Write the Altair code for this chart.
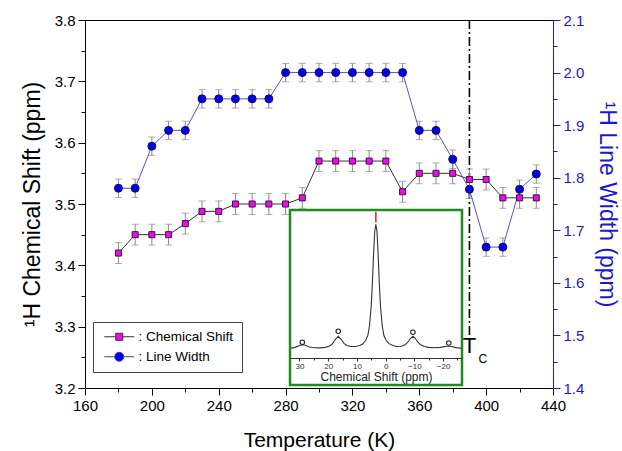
import altair as alt
import pandas as pd

# ---------------- data ----------------
temperature = [180, 190, 200, 210, 220, 230, 240, 250, 260, 270, 280, 290, 300,
               310, 320, 330, 340, 350, 360, 370, 380, 390, 400, 410, 420, 430]
chem_shift = [3.42, 3.45, 3.45, 3.45, 3.468, 3.488, 3.488, 3.50, 3.50, 3.50, 3.50, 3.51, 3.57,
              3.57, 3.57, 3.57, 3.57, 3.52, 3.55, 3.55, 3.55, 3.54, 3.54, 3.51, 3.51, 3.51]
line_width = [1.78, 1.78, 1.86, 1.89, 1.89, 1.95, 1.95, 1.95, 1.95, 1.95, 2.00, 2.00, 2.00,
              2.00, 2.00, 2.00, 2.00, 2.00, 1.89, 1.89, 1.835, 1.778, 1.668, 1.668, 1.778, 1.807]
cs_error = 0.017
lw_error = 0.0175

series_names = ["Chemical Shift", "Line Width"]

# inset spectrum
spec_ppm = [33.0, 31.5, 30.0, 29.0, 28.0, 26.5, 25.0, 23.0, 21.0, 19.5, 18.5, 17.5, 16.5, 15.5,
            14.5, 13.5, 12.0, 10.5, 9.0, 8.0, 7.0, 6.2, 5.6, 5.0, 4.6, 4.2, 3.8, 3.4, 3.0, 2.6,
            2.2, 1.8, 1.2, 0.6, -0.2, -1.2, -2.5, -4.0, -5.5, -6.8, -7.8, -8.7, -9.5, -10.3,
            -11.2, -12.2, -13.5, -15.0, -17.0, -19.0, -20.5, -21.5, -22.3, -23.2, -24.5, -26.5]
spec_int = [0.008, 0.015, 0.03, 0.037, 0.032, 0.018, 0.012, 0.011, 0.015, 0.026, 0.045, 0.08,
            0.104, 0.08, 0.047, 0.03, 0.022, 0.022, 0.03, 0.042, 0.07, 0.11, 0.19, 0.35, 0.53,
            0.76, 0.94, 1.0, 0.94, 0.76, 0.53, 0.35, 0.19, 0.11, 0.07, 0.045, 0.03, 0.022, 0.024,
            0.035, 0.058, 0.088, 0.104, 0.088, 0.058, 0.035, 0.022, 0.015, 0.012, 0.015, 0.021,
            0.024, 0.024, 0.02, 0.013, 0.008]
sideband_ppm = [29.0, 16.5, -9.5, -22.0]
sideband_int = [0.056, 0.144, 0.136, 0.05]
peak_ppm = 3.4
peak_mark = [1.015, 1.1]

inset_ticks = [30, 20, 10, 0, -10, -20]
inset_minor = [25, 15, 5, -5, -15, -25]
x_ticks = [160, 200, 240, 280, 320, 360, 400, 440]
x_minor = [180, 220, 260, 300, 340, 380, 420]
cs_ticks = [3.2, 3.3, 3.4, 3.5, 3.6, 3.7, 3.8]
cs_minor = [3.25, 3.35, 3.45, 3.55, 3.65, 3.75]
lw_ticks = [1.4, 1.5, 1.6, 1.7, 1.8, 1.9, 2.0, 2.1]
lw_minor = [1.45, 1.55, 1.65, 1.75, 1.85, 1.95, 2.05]

tc_temperature = 390
tc_line_bottom = 3.285

# ---------------- styling ----------------
FONT = "Liberation Sans"
BLUE = "#1a1acc"
GREEN = "#1e8c1e"
PLOT_W, PLOT_H = 468, 368
X_DOM = [160, 440]
CS_DOM = [3.2, 3.8]
LW_DOM = [1.4, 2.1]
INS_X_DOM = [33.3, -26.6]
INS_Y_DOM = [-0.286, 1.114]
INS_X_RANGE = [205, 377]
INS_Y_RANGE = [365, 190]
INSET_AXIS_OFFSET = -30

SQ_PATH = "M-0.875,0H2M3.75,0H6.625M2,-0.875H3.75V0.875H2Z"
CI_PATH = "M-0.875,0H1.75M4,0H6.625M1.75,0A1.125,1.125 0 1,0 4,0A1.125,1.125 0 1,0 1.75,0Z"

main_df = pd.DataFrame({"T": temperature, "cs": chem_shift, "lw": line_width})
main_df["cs_lo"] = main_df["cs"] - cs_error
main_df["cs_hi"] = main_df["cs"] + cs_error
main_df["lw_lo"] = main_df["lw"] - lw_error
main_df["lw_hi"] = main_df["lw"] + lw_error

spec_df = pd.DataFrame({"ppm": spec_ppm, "inten": spec_int})
side_df = pd.DataFrame({"ppm": sideband_ppm, "inten": sideband_int})
peak_df = pd.DataFrame({"ppm": [peak_ppm], "y0": [peak_mark[0]], "y1": [peak_mark[1]]})
frame_df = pd.DataFrame({"x0": [INS_X_DOM[0]], "x1": [INS_X_DOM[1]],
                         "y0": [INS_Y_DOM[0]], "y1": [INS_Y_DOM[1]]})
tc_df = pd.DataFrame({"T": [tc_temperature], "top": [CS_DOM[1]], "bot": [tc_line_bottom],
                      "ty": [3.284], "cy": [3.2548]})
legend_df = pd.DataFrame({"series": series_names, "T": [100, 100], "v": [3.0, 3.0]})


def xs(field, axis=None):
    return alt.X(field, type="quantitative", axis=axis,
                 scale=alt.Scale(domain=X_DOM, nice=False, zero=False))


def ycs(field, axis=None):
    return alt.Y(field, type="quantitative", axis=axis,
                 scale=alt.Scale(domain=CS_DOM, nice=False, zero=False))


def ylw(field, axis=None):
    return alt.Y(field, type="quantitative", axis=axis,
                 scale=alt.Scale(domain=LW_DOM, nice=False, zero=False))


def ix(field, axis=None):
    return alt.X(field, type="quantitative", axis=axis,
                 scale=alt.Scale(domain=INS_X_DOM, range=INS_X_RANGE, nice=False, zero=False))


def iy(field, axis=None):
    return alt.Y(field, type="quantitative", axis=axis,
                 scale=alt.Scale(domain=INS_Y_DOM, range=INS_Y_RANGE, nice=False, zero=False))


x_major_axis = alt.Axis(orient="bottom", values=x_ticks, tickSize=7, labelFontSize=15,
                        labelFont=FONT, labelPadding=3, labelColor="black", labelFlush=False,
                        labelOverlap=False, title="Temperature (K)", titleFontSize=21,
                        titleFont=FONT, titleFontWeight="normal", titleColor="black",
                        titlePadding=16, domainColor="black", tickColor="black", grid=False)
x_minor_axis = alt.Axis(orient="bottom", values=x_minor, tickSize=4, labels=False, domain=False,
                        title=None, tickColor="black", grid=False)
cs_major_axis = alt.Axis(orient="left", values=cs_ticks, format=".1f", tickSize=7,
                         labelFontSize=15, labelFont=FONT, labelPadding=3, labelColor="black",
                         labelOverlap=False, title="¹H Chemical Shift (ppm)", titleFontSize=23,
                         titleFont=FONT, titleFontWeight="normal", titleColor="black",
                         titlePadding=10, domainColor="black", tickColor="black", grid=False)
cs_minor_axis = alt.Axis(orient="left", values=cs_minor, tickSize=4, labels=False, domain=False,
                         title=None, tickColor="black", grid=False)
lw_major_axis = alt.Axis(orient="right", values=lw_ticks, format=".1f", tickSize=7,
                         labelFontSize=15, labelFont=FONT, labelPadding=3, labelColor=BLUE,
                         labelOverlap=False, title="¹H Line Width (ppm)", titleFontSize=23,
                         titleFont=FONT, titleFontWeight="normal", titleColor=BLUE,
                         titlePadding=11, domainColor=BLUE, tickColor=BLUE, grid=False)
lw_minor_axis = alt.Axis(orient="right", values=lw_minor, tickSize=4, labels=False, domain=False,
                         title=None, tickColor=BLUE, grid=False)
inset_major_axis = alt.Axis(orient="bottom", offset=INSET_AXIS_OFFSET, values=inset_ticks,
                            format="d", tickSize=3, labelFontSize=8, labelFont=FONT,
                            labelPadding=1, labelColor="#333", labelFlush=False,
                            labelOverlap=False, title="Chemical Shift (ppm)", titleFontSize=12,
                            titleFont=FONT, titleFontWeight="normal", titleColor="#222",
                            titlePadding=1, domainColor="#333", tickColor="#333", grid=False,
                            zindex=2)
inset_minor_axis = alt.Axis(orient="bottom", offset=INSET_AXIS_OFFSET, values=inset_minor,
                            tickSize=2, labels=False, domain=False, title=None,
                            tickColor="#333", grid=False, zindex=2)

# ---------------- layers ----------------
frame = alt.Chart(frame_df).mark_rect(fill="white", stroke=GREEN, strokeWidth=2.5).encode(
    x=ix("x0"), x2="x1", y=iy("y0"), y2="y1")

spectrum = alt.Chart(spec_df).mark_line(color="#333", strokeWidth=1.1).encode(
    x=ix("ppm", inset_major_axis), y=iy("inten"), order="ppm:Q")

sidebands = alt.Chart(side_df).mark_point(shape="circle", filled=False, size=20, color="#222",
                                          strokeWidth=1.1, opacity=1).encode(
    x=ix("ppm", inset_minor_axis), y=iy("inten"))

peak_tick = alt.Chart(peak_df).mark_rule(color="#e02020", strokeWidth=1.5).encode(
    x=ix("ppm"), y=iy("y0"), y2="y1")

tc_line = alt.Chart(tc_df).mark_rule(color="black", strokeWidth=1.6,
                                     strokeDash=[9, 3, 2, 3]).encode(
    x=xs("T"), y=ycs("top"), y2="bot")
tc_T = alt.Chart(tc_df).mark_text(text="T", fontSize=22, font=FONT, baseline="top",
                                  align="center", color="black").encode(x=xs("T"), y=ycs("ty"))
tc_C = alt.Chart(tc_df).mark_text(text="C", fontSize=12, font=FONT, baseline="top",
                                  align="left", dx=9, color="black").encode(x=xs("T"), y=ycs("cy"))

ERR_COLOR = "#8a8a8a"
base = alt.Chart(main_df)
cs_rule = base.mark_rule(color=ERR_COLOR, strokeWidth=1).encode(
    x=xs("T", x_minor_axis), y=ycs("cs_lo", cs_minor_axis), y2="cs_hi")
cs_cap_lo = base.mark_tick(color=ERR_COLOR, orient="horizontal", size=7, thickness=1).encode(
    x=xs("T"), y=ycs("cs_lo"))
cs_cap_hi = base.mark_tick(color=ERR_COLOR, orient="horizontal", size=7, thickness=1).encode(
    x=xs("T"), y=ycs("cs_hi"))
lw_rule = base.mark_rule(color=ERR_COLOR, strokeWidth=1).encode(
    x=xs("T"), y=ylw("lw_lo", lw_minor_axis), y2="lw_hi")
lw_cap_lo = base.mark_tick(color=ERR_COLOR, orient="horizontal", size=7, thickness=1).encode(
    x=xs("T"), y=ylw("lw_lo"))
lw_cap_hi = base.mark_tick(color=ERR_COLOR, orient="horizontal", size=7, thickness=1).encode(
    x=xs("T"), y=ylw("lw_hi"))

cs_line = base.mark_line(color="#333", strokeWidth=1).encode(
    x=xs("T", x_major_axis), y=ycs("cs", cs_major_axis))
lw_line = base.mark_line(color="#5555cc", strokeWidth=1).encode(
    x=xs("T"), y=ylw("lw", lw_major_axis))
cs_pts = base.mark_point(shape="square", filled=True, size=36, fill="#ff00ff", stroke="#222",
                         strokeWidth=1, opacity=1).encode(x=xs("T"), y=ycs("cs"))
lw_pts = base.mark_point(shape="circle", filled=True, size=64, fill="#0000ee", stroke="#111155",
                         strokeWidth=1, opacity=1).encode(x=xs("T"), y=ylw("lw"))

legend_def = alt.Legend(orient="none", legendX=8, legendY=302, title=None, strokeColor="#444",
                        fillColor="white", padding=8, labelFont=FONT, labelFontSize=13.5,
                        labelColor="black", labelExpr="': ' + datum.label", symbolSize=64,
                        symbolStrokeWidth=1, labelOffset=24, rowPadding=5, symbolOpacity=1)
legend_layer = alt.Chart(legend_df).mark_point(filled=True, clip=True, opacity=1, size=64,
                                               strokeWidth=1).encode(
    x=xs("T"), y=ycs("v"),
    shape=alt.Shape("series:N", scale=alt.Scale(domain=series_names, range=[SQ_PATH, CI_PATH]),
                    legend=legend_def),
    fill=alt.Fill("series:N", scale=alt.Scale(domain=series_names, range=["#ff00ff", "#0000ee"]),
                  legend=legend_def),
    stroke=alt.Stroke("series:N", scale=alt.Scale(domain=series_names, range=["#333333", "#3a3ab8"]),
                      legend=legend_def),
)

chart = alt.layer(
    frame, spectrum, sidebands, peak_tick,
    tc_line, tc_T, tc_C,
    cs_rule, cs_cap_lo, cs_cap_hi, lw_rule, lw_cap_lo, lw_cap_hi,
    cs_line, lw_line, cs_pts, lw_pts, legend_layer,
).resolve_scale(x="independent", y="independent").properties(
    width=PLOT_W, height=PLOT_H,
    autosize=alt.AutoSizeParams(type="none"),
    padding={"left": 85, "top": 20, "right": 69, "bottom": 63},
    background="white",
).configure_view(stroke="black", strokeWidth=1).configure_axis(grid=False)

chart.save("out.html", embed_options={"renderer": "svg", "actions": False})
